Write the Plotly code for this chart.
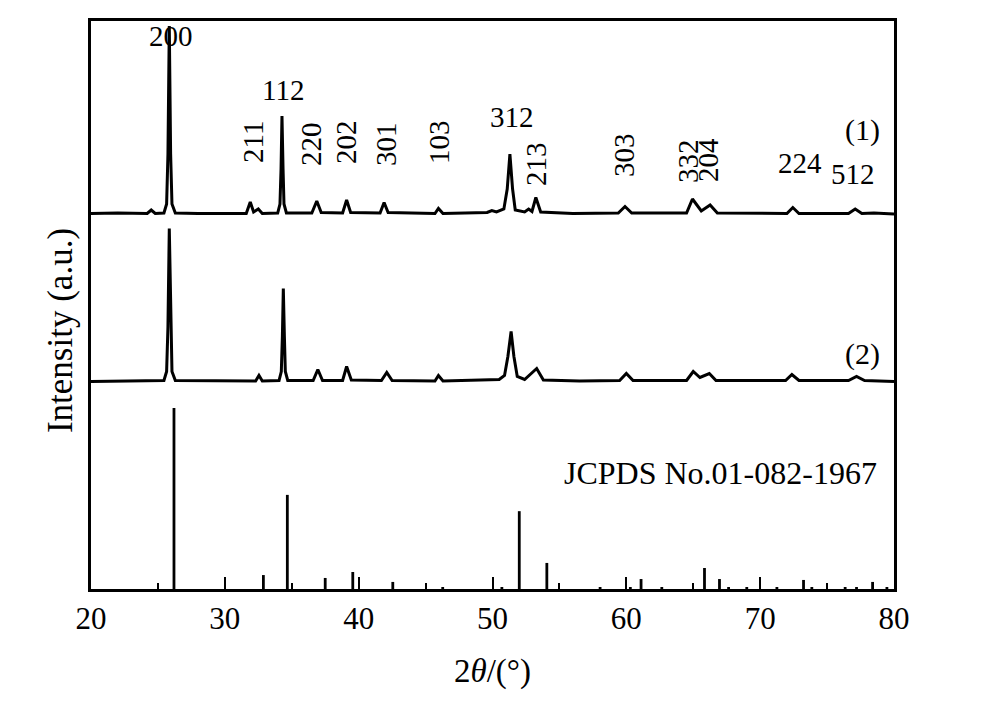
import plotly.graph_objects as go

# ---------------- data ----------------
# Pattern (1): 2theta and intensity above its own baseline (a.u.)
s1_x = [20.0, 22.0, 24.2, 24.5, 24.8, 25.45, 25.65, 25.75, 25.85, 25.95, 26.05, 26.3,
        28.0, 31.6, 31.9, 32.15, 32.5, 32.8,
        33.95, 34.12, 34.2, 34.27, 34.35, 34.42, 34.6,
        36.5, 36.87, 37.2, 38.8, 39.1, 39.4, 41.6, 41.9, 42.2, 45.7, 45.96,
        46.3, 49.6, 49.95, 50.3, 50.85, 51.1, 51.3, 51.5, 51.7, 52.4, 52.7, 52.95, 53.24, 53.6,
        56.0, 59.4, 59.9, 60.4, 64.5, 64.94, 65.6, 66.26, 66.8, 69.0, 72.0, 72.44, 72.9,
        76.6, 77.1, 77.6, 78.5, 80.0]
s1_y = [0.5, 1.0, 0.5, 4, 0.5, 1, 10, 60, 188, 60, 10, 1,
        0.5, 0.5, 12, 2, 5, 0.5,
        1, 10, 45, 98, 45, 10, 1,
        1, 13, 1.5, 1, 14, 1.5, 1, 11.5, 1.5, 0.5, 5.5,
        0.5, 1.5, 3.5, 2, 5, 25, 60, 25, 4, 2, 5, 2.5, 16.5, 2,
        0.5, 1, 7.5, 1, 1, 15, 3, 9, 1, 0.5, 0.5, 6.5, 0.5,
        0.5, 5, 0.5, 1, 0]

# Pattern (2)
s2_x = [20.0, 22.5, 25.45, 25.65, 25.75, 25.85, 25.95, 26.05, 26.3, 29.0,
        32.3, 32.55, 32.8, 34.05, 34.22, 34.3, 34.37, 34.45, 34.52, 34.7, 36.6, 36.95,
        37.3, 38.8, 39.1, 39.45, 41.7, 42.1, 42.5, 45.7, 45.96, 46.3, 50.5, 50.9, 51.15, 51.39,
        51.6, 51.85, 52.4, 53.3, 53.8, 56.5, 59.5, 60.0, 60.5, 64.5, 65.0, 65.5, 66.2, 66.7,
        71.9, 72.37, 72.9, 76.6, 77.2, 77.8, 80.0]
s2_y = [0, 0.5, 1, 10, 55, 153, 55, 10, 1, 0.5,
        0.5, 6, 0.5, 1, 10, 45, 93, 45, 10, 1, 1, 12,
        1, 1, 15, 1.5, 1, 9, 1, 0.5, 6, 0.5, 2, 6, 25, 50,
        25, 5, 2, 13, 1.5, 0.5, 1, 8, 1, 1, 10, 4, 8, 1,
        1, 7, 1, 1, 5, 1, 0]

# JCPDS No.01-082-1967 reference lines: 2theta and relative intensity (%)
ref_pos = [26.2, 32.88, 34.67, 37.5, 39.56, 42.55, 46.28, 50.7, 52.0, 54.06, 58.04, 60.3,
           61.1, 62.65, 65.84, 66.96, 67.64, 69.0, 71.25, 73.24, 73.86, 76.35, 77.2, 78.4, 79.47]
ref_int = [100, 7.7, 52, 6.1, 9.4, 3.9, 1.1, 1.1, 43, 14.4, 1.1, 1.1,
           5.5, 1.1, 11.6, 5.5, 1.1, 1.1, 1.1, 5.0, 1.1, 1.1, 1.1, 3.9, 1.1]

# peak labels (hkl) of pattern (1)
hkl_text = ["200", "112", "211", "220", "202", "301", "103", "312", "213", "303",
            "332", "204", "224", "512"]

# ---------------- layout helpers ----------------
off1 = 375     # vertical offset of pattern (1)
off2 = 207.5   # vertical offset of pattern (2)
ref_scale = 1.81

FONT = "Liberation Serif, Times New Roman, serif"

fig = go.Figure()
fig.add_trace(go.Scatter(x=s1_x, y=[v + off1 for v in s1_y], mode="lines",
                         line=dict(color="black", width=3), hoverinfo="skip"))
fig.add_trace(go.Scatter(x=s2_x, y=[v + off2 for v in s2_y], mode="lines",
                         line=dict(color="black", width=3), hoverinfo="skip"))

sx, sy = [], []
for p, h in zip(ref_pos, ref_int):
    sx += [p, p, None]
    sy += [0, h * ref_scale, None]
fig.add_trace(go.Scatter(x=sx, y=sy, mode="lines",
                         line=dict(color="black", width=2.8), hoverinfo="skip"))

# label placement (x in 2theta, y in plot units, angle)
lab_pos = {
    "200": (25.95, 553, 0), "112": (34.35, 499, 0), "211": (32.1, 447, -90),
    "220": (36.44, 445, -90), "202": (39.05, 447, -90), "301": (42.04, 445, -90),
    "103": (46.0, 447, -90), "312": (51.46, 472, 0), "213": (53.25, 425, -90),
    "303": (59.83, 434, -90), "332": (64.61, 428, -90), "204": (66.1, 429, -90),
    "224": (72.98, 426, 0), "512": (76.94, 415, 0),
}
annotations = []
for t in hkl_text:
    x, y, a = lab_pos[t]
    annotations.append(dict(x=x, y=y, text=t, textangle=a, showarrow=False,
                            font=dict(family=FONT, size=29, color="black")))
annotations += [
    dict(x=77.61, y=459, text="(1)", showarrow=False, font=dict(family=FONT, size=30, color="black")),
    dict(x=77.61, y=235, text="(2)", showarrow=False, font=dict(family=FONT, size=30, color="black")),
    dict(x=67.07, y=116, text="JCPDS No.01-082-1967", showarrow=False,
         font=dict(family=FONT, size=32, color="black")),
    # y-axis title, placed slightly below the plot-area centre as in the original
    dict(xref="paper", yref="paper", x=-0.038, y=0.455, text="Intensity (a.u.)",
         textangle=-90, showarrow=False, xanchor="center", yanchor="middle",
         font=dict(family=FONT, size=35, color="black")),
]

# the page body adds an 8 px offset, so the figure is 8 px smaller than the window
fig.update_layout(
    width=975, height=705,
    margin=dict(l=83, r=89, t=13, b=124, autoexpand=False),
    paper_bgcolor="white", plot_bgcolor="white",
    showlegend=False,
    annotations=annotations,
    font=dict(family=FONT, color="black"),
)
fig.update_xaxes(
    range=[20, 80], showline=True, linewidth=2.5, linecolor="black", mirror=True,
    showgrid=False, zeroline=False, automargin=False,
    ticks="inside", ticklen=12, tickwidth=2, tickcolor="black",
    tick0=20, dtick=10,
    minor=dict(ticks="inside", ticklen=6, tickwidth=2, tickcolor="black", dtick=5, showgrid=False),
    tickfont=dict(family=FONT, size=31, color="black"),
    title=dict(text="2<i>θ</i>/(°)", font=dict(family=FONT, size=33, color="black"), standoff=24),
)
fig.update_yaxes(
    range=[0, 568], showline=True, linewidth=2.5, linecolor="black", mirror=True,
    showgrid=False, zeroline=False, showticklabels=False, ticks="", automargin=False,
)

fig.write_html("out.html")
